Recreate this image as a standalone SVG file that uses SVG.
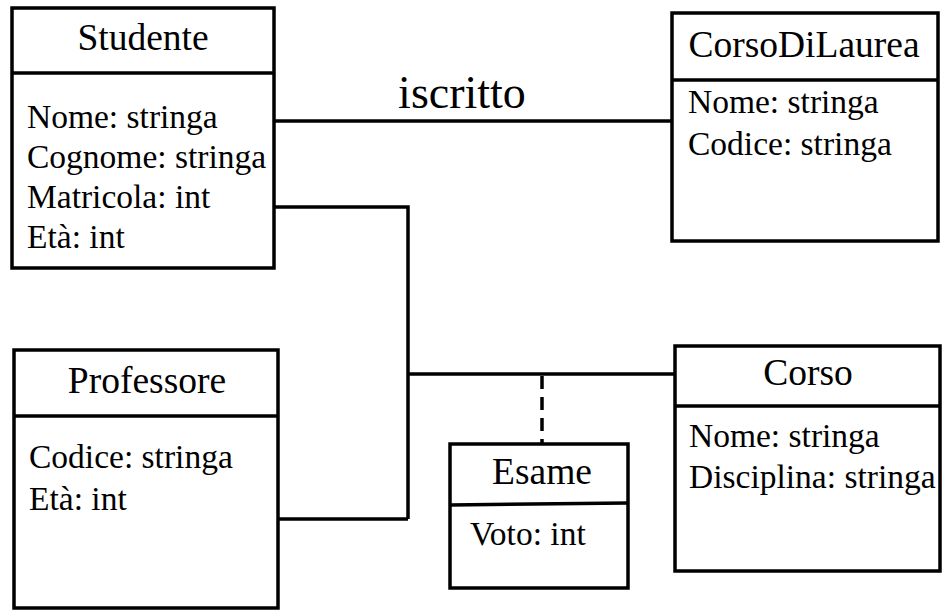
<svg xmlns="http://www.w3.org/2000/svg" width="943" height="610" viewBox="0 0 943 610">
<style>
.box{fill:#fff;stroke:#000;stroke-width:3.5}
.div{stroke:#000;stroke-width:3.5}
.t{font-family:"Liberation Serif","Times New Roman",serif;font-size:33.5px;fill:#000}
.c{text-anchor:middle;font-size:37.5px}
.ln{fill:none;stroke:#000;stroke-width:3.5}
.dash{fill:none;stroke:#000;stroke-width:3.5;stroke-dasharray:13 8}
</style>
<rect width="943" height="610" fill="#fff"/>
<g id="connectors">
<path class="ln" d="M274 121 H672"/>
<path class="ln" d="M274 207 H408 V519 M278 519 H408 M408 374 H675"/>
<path class="dash" d="M542 376 V444"/>
<text class="t c" x="462" y="108" style="font-size:46px">iscritto</text>
</g>
<g id="Studente">
<rect class="box" x="12" y="8" width="262" height="260"/>
<line class="div" x1="12" y1="73" x2="274" y2="73"/>
<text class="t c" x="143" y="50">Studente</text>
<text class="t" x="27" y="128">Nome: stringa</text>
<text class="t" x="27" y="168">Cognome: stringa</text>
<text class="t" x="27" y="208">Matricola: int</text>
<text class="t" x="27" y="248">Età: int</text>
</g>
<g id="CorsoDiLaurea">
<rect class="box" x="672" y="13" width="266" height="228"/>
<line class="div" x1="672" y1="80" x2="938" y2="80"/>
<text class="t c" x="804" y="57">CorsoDiLaurea</text>
<text class="t" x="688" y="113">Nome: stringa</text>
<text class="t" x="688" y="155">Codice: stringa</text>
</g>
<g id="Professore">
<rect class="box" x="14" y="350" width="264" height="258"/>
<line class="div" x1="14" y1="416" x2="278" y2="416"/>
<text class="t c" x="147" y="393">Professore</text>
<text class="t" x="29" y="468">Codice: stringa</text>
<text class="t" x="29" y="510">Età: int</text>
</g>
<g id="Corso">
<rect class="box" x="675" y="346" width="265" height="225"/>
<line class="div" x1="675" y1="406" x2="940" y2="406"/>
<text class="t c" x="808" y="385">Corso</text>
<text class="t" x="689" y="447">Nome: stringa</text>
<text class="t" x="689" y="488">Disciplina: stringa</text>
</g>
<g id="Esame">
<rect class="box" x="450" y="444" width="178" height="144"/>
<line class="div" x1="450" y1="505" x2="628" y2="503"/>
<text class="t c" x="542" y="484">Esame</text>
<text class="t" x="470" y="545">Voto: int</text>
</g>
</svg>
